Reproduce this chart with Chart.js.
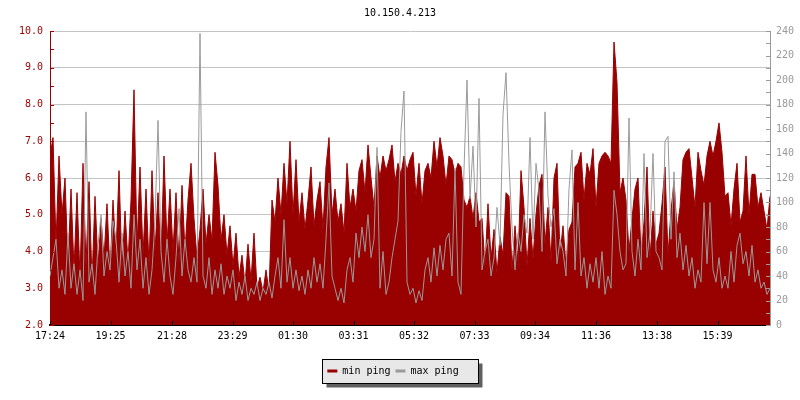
<!DOCTYPE html>
<html><head><meta charset="utf-8">
<script src="https://cdn.jsdelivr.net/npm/chart.js@4.4.1/dist/chart.umd.min.js"></script>
<style>html,body{margin:0;padding:0;background:#fff;} #wrap{width:800px;height:400px;}</style>
</head><body>
<div id="wrap"><canvas id="c" width="800" height="400"></canvas></div>
<script>
const chartTitle = "10.150.4.213";
const seriesNames = ["min ping", "max ping"];
const tickLabels = ["17:24","19:25","21:28","23:29","01:30","03:31","05:32","07:33","09:34","11:36","13:38","15:39"];
const tickMinutes = [0,121,244,365,486,607,728,849,970,1092,1214,1335];
const sampleMinutes = 6;

// min ping (ms, left axis)
const minPing = [
 6.6,7.1,4.2,6.6,5.0,6.0,3.6,5.7,3.5,5.6, 3.3,6.4,3.6,5.9,3.2,5.5,3.6,4.9,3.8,5.3,
 3.4,5.4,3.9,6.2,3.5,5.1,3.7,5.4,8.4,4.1, 6.3,3.9,5.7,3.6,6.2,4.0,5.6,3.8,6.6,4.2,
 5.7,4.0,5.6,3.7,5.8,4.0,5.4,6.4,
 4.9,3.8,4.6,5.7,4.2,5.0,4.3,6.7,5.8,4.3, 5.0,3.9,4.7,3.6,4.5,3.3,3.9,3.1,4.2,3.2,
 4.5,3.0,3.3,2.9,3.5,2.9,5.4,4.8,6.0,5.0, 6.4,5.3,7.0,5.0,6.5,4.8,5.6,4.6,5.4,6.3,
 4.7,5.4,5.9,4.6,6.3,7.1,5.0,5.7,
 4.8,5.3,4.5,6.4,5.2,5.7,5.1,6.2,6.5,5.6, 6.9,6.0,5.2,6.6,6.0,6.6,6.2,6.5,6.9,5.9,
 6.4,6.1,6.6,6.2,6.5,6.7,5.5,6.4,5.3,6.2, 6.4,6.0,7.0,6.3,7.1,6.6,5.8,6.6,6.5,6.1,
 6.4,6.3,5.4,5.2,5.5,4.9,5.6,4.8,
 4.9,3.6,5.3,3.8,4.6,3.4,4.4,3.9,5.6,5.5, 3.5,4.7,3.7,6.2,5.2,3.6,4.9,3.8,5.0,5.8,
 6.1,4.2,5.2,3.7,6.0,6.4,3.9,4.7,3.6,4.6, 4.8,6.3,6.4,6.7,5.4,6.4,6.1,6.8,5.2,6.4,
 6.6,6.7,6.6,6.4,9.7,8.6,5.6,6.0,
 5.4,4.0,4.9,5.7,6.0,3.9,4.8,6.3,3.8,5.1, 4.2,4.5,5.3,6.3,3.9,5.1,5.9,4.6,5.2,6.5,
 6.7,6.8,6.0,5.2,6.7,6.2,5.8,6.6,7.0,6.6, 7.0,7.5,6.7,5.5,5.6,4.7,5.7,6.4,4.8,5.1,
 6.6,5.0,6.1,6.1,5.2,5.6,5.1,4.6,5.5
];

// max ping (ms, right axis)
const maxPing = [
 40,55,70,30,45,25,75,30,50,25, 45,20,174,35,50,25,65,90,40,60,
 45,85,70,35,75,40,60,30,90,45, 70,30,55,25,45,85,167,60,35,70,
 40,25,55,95,40,70,45,35,
 55,35,238,40,30,55,25,45,30,50, 25,40,30,45,20,35,25,40,20,30,
 25,35,20,30,25,35,22,40,55,30, 86,35,55,30,45,28,40,25,45,30,
 55,35,50,30,70,116,40,30,
 20,30,18,45,55,35,75,55,80,60, 90,55,70,145,30,60,25,35,55,70,
 85,158,191,35,25,30,18,28,20,45, 55,35,63,40,65,45,70,75,40,128,
 35,25,127,200,103,146,80,185,
 45,60,70,40,55,96,65,172,206,132, 80,45,75,60,90,75,153,70,132,110,
 60,174,105,80,95,50,70,60,40,111, 143,45,100,40,55,30,50,35,55,30,
 60,25,40,30,110,90,60,45,
 50,169,60,40,70,45,140,55,75,140, 60,55,45,150,154,70,125,55,75,45,
 65,40,55,30,45,35,100,50,100,45, 35,55,30,40,30,60,35,65,75,50,
 60,40,65,35,45,30,35,25,30
];

const RED = '#990000';
const GREY = '#9a9a9a';
const FONT = "'DejaVu Sans Mono', 'Liberation Mono', monospace";

const toXY = arr => arr.map((v, i) => ({x: i * sampleMinutes, y: v}));

const decor = {
  id: 'decor',
  afterLayout(chart) {
    const lg = chart.legend;
    if (lg) { lg.left -= 7; lg.right -= 7; }
  },
  beforeDraw(chart) {
    const lg = chart.legend;
    if (!lg || !lg.legendHitBoxes || !lg.legendHitBoxes.length) return;
    const hb = lg.legendHitBoxes;
    const first = hb[0], last = hb[hb.length - 1];
    const cy = first.top + first.height / 2;
    const l = Math.round(first.left - 5) + 0.5, r = Math.round(last.left + last.width + 19) + 0.5;
    const t = Math.round(cy - 12) + 0.5, b = Math.round(cy + 12) + 0.5;
    const ctx = chart.ctx;
    ctx.save();
    ctx.fillStyle = '#606060';
    ctx.fillRect(l + 4, t + 4, r - l, b - t);
    ctx.fillStyle = '#e8e8e8';
    ctx.fillRect(l, t, r - l, b - t);
    ctx.strokeStyle = '#000';
    ctx.lineWidth = 1;
    ctx.strokeRect(l, t, r - l, b - t);
    ctx.restore();
  },
  afterDraw(chart) {
    const {ctx, chartArea: a, scales} = chart;
    ctx.save();
    ctx.lineWidth = 1;
    ctx.strokeStyle = RED;
    ctx.beginPath();
    for (let v = 2; v <= 10.001; v += 0.5) {
      const y = Math.round(scales.y.getPixelForValue(v)) + 0.5;
      ctx.moveTo(a.left, y); ctx.lineTo(a.left + 4, y);
    }
    ctx.stroke();
    ctx.strokeStyle = GREY;
    ctx.beginPath();
    for (let v = 0; v <= 240; v += 10) {
      const y = Math.round(scales.y1.getPixelForValue(v)) + 0.5;
      ctx.moveTo(a.right, y); ctx.lineTo(a.right - 4, y);
    }
    ctx.stroke();
    ctx.strokeStyle = '#000';
    ctx.beginPath();
    tickMinutes.forEach(m => {
      const x = Math.round(scales.x.getPixelForValue(m)) + 0.5;
      ctx.moveTo(x, a.bottom); ctx.lineTo(x, a.bottom - 4);
    });
    ctx.stroke();
    ctx.restore();
  }
};

new Chart(document.getElementById('c'), {
  type: 'line',
  data: {
    datasets: [
      {label: seriesNames[0], data: toXY(minPing), yAxisID: 'y', order: 2,
       borderColor: RED, backgroundColor: RED, borderWidth: 1, fill: 'start',
       pointRadius: 0, tension: 0},
      {label: seriesNames[1], data: toXY(maxPing), yAxisID: 'y1', order: 1,
       borderColor: GREY, backgroundColor: GREY, borderWidth: 1, fill: false,
       pointRadius: 0, tension: 0}
    ]
  },
  options: {
    responsive: false,
    animation: false,
    devicePixelRatio: 1,
    layout: {padding: {bottom: 14, top: 0, left: 0, right: 0}},
    plugins: {
      title: {display: true, text: chartTitle, color: '#000',
              font: {family: FONT, size: 10, weight: 'normal', lineHeight: 1.2},
              padding: {top: 7, bottom: 12}},
      legend: {display: true, position: 'bottom',
        labels: {
          font: {family: FONT, size: 10}, color: '#000',
          boxWidth: 10, boxHeight: 3, padding: 5,
          sort: (a, b) => a.datasetIndex - b.datasetIndex,
          generateLabels: (chart) => chart.data.datasets.map((d, i) => ({
            text: d.label, fillStyle: d.borderColor, strokeStyle: d.borderColor,
            lineWidth: 0, datasetIndex: i, hidden: false, fontColor: '#000'
          }))
        }},
      tooltip: {enabled: false}
    },
    scales: {
      x: {
        type: 'linear', min: 0, max: 1440, position: 'bottom',
        afterBuildTicks: s => { s.ticks = tickMinutes.map(v => ({value: v})); },
        afterFit: s => { s.height = 36; },
        ticks: {autoSkip: false, maxRotation: 0, padding: 5, color: '#000',
                font: {family: FONT, size: 10},
                callback: (v, i) => tickLabels[i]},
        grid: {display: true, drawOnChartArea: false, drawTicks: false},
        border: {display: true, color: '#000', width: 2}
      },
      y: {
        position: 'left', min: 2, max: 10,
        afterFit: s => { s.width = 50; },
        ticks: {stepSize: 1, color: RED, padding: 7, font: {family: FONT, size: 10},
                callback: v => Number(v).toFixed(1)},
        grid: {color: '#c4c4c4', lineWidth: 1, drawTicks: false},
        border: {display: true, color: RED, width: 1}
      },
      y1: {
        position: 'right', min: 0, max: 240,
        afterFit: s => { s.width = 30; },
        ticks: {stepSize: 20, color: GREY, padding: 6, font: {family: FONT, size: 10}},
        grid: {drawOnChartArea: false, drawTicks: false},
        border: {display: true, color: GREY, width: 1}
      }
    }
  },
  plugins: [decor]
});
</script>
</body></html>
